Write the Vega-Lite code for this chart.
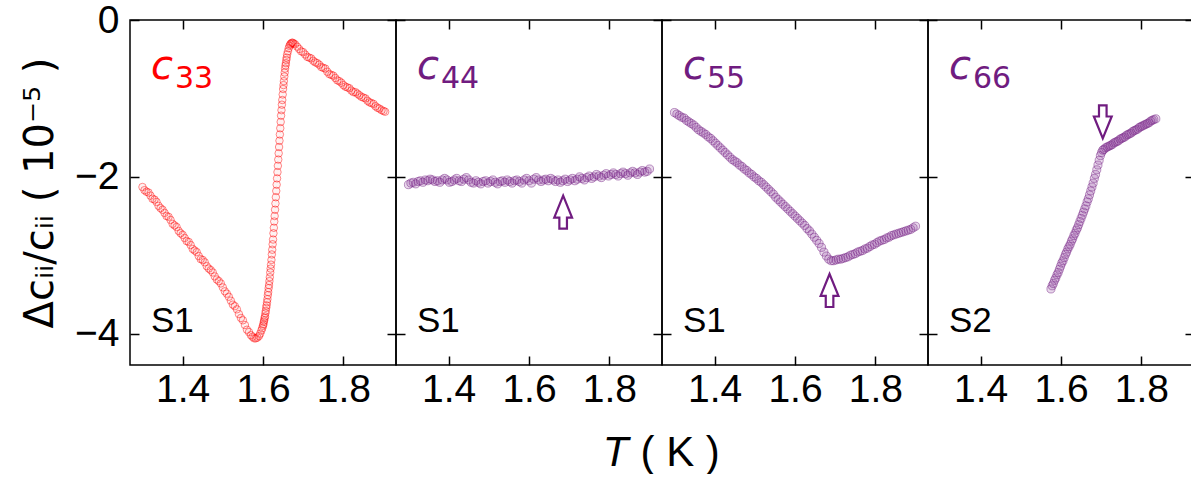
{
"$schema":"https://vega.github.io/schema/vega-lite/v6.json",
"padding":{"left":19,"top":0,"right":0,"bottom":0},
"spacing":0,
"bounds":"flush",
"config":{
 "view":{"stroke":"black","strokeWidth":1.5},
 "axis":{"grid":false,"domain":false,"ticks":true,"tickColor":"black","tickWidth":1.5,"tickSize":-9,"labelFont":"Liberation Sans","labelFontSize":39,"labelColor":"black","titleColor":"black","labelPadding":14}
},
"datasets":{
"c33":[
{"T":1.300,"v":-2.13},{"T":1.305,"v":-2.17},{"T":1.310,"v":-2.19},{"T":1.315,"v":-2.20},{"T":1.320,"v":-2.24},{"T":1.325,"v":-2.28},{"T":1.330,"v":-2.29},{"T":1.335,"v":-2.32},{"T":1.340,"v":-2.37},{"T":1.345,"v":-2.40},{"T":1.350,"v":-2.42},{"T":1.355,"v":-2.46},{"T":1.360,"v":-2.50},{"T":1.365,"v":-2.51},{"T":1.370,"v":-2.55},{"T":1.375,"v":-2.60},{"T":1.380,"v":-2.62},{"T":1.385,"v":-2.64},{"T":1.390,"v":-2.69},{"T":1.395,"v":-2.72},{"T":1.400,"v":-2.74},{"T":1.405,"v":-2.78},{"T":1.410,"v":-2.82},{"T":1.415,"v":-2.83},{"T":1.420,"v":-2.87},{"T":1.425,"v":-2.92},{"T":1.430,"v":-2.94},{"T":1.435,"v":-2.96},{"T":1.440,"v":-3.01},{"T":1.445,"v":-3.05},{"T":1.450,"v":-3.06},{"T":1.455,"v":-3.09},{"T":1.460,"v":-3.14},{"T":1.465,"v":-3.17},{"T":1.470,"v":-3.19},{"T":1.475,"v":-3.22},{"T":1.480,"v":-3.27},{"T":1.485,"v":-3.31},{"T":1.490,"v":-3.33},{"T":1.495,"v":-3.36},{"T":1.500,"v":-3.41},{"T":1.505,"v":-3.46},{"T":1.510,"v":-3.49},{"T":1.515,"v":-3.53},{"T":1.520,"v":-3.58},{"T":1.525,"v":-3.63},{"T":1.530,"v":-3.65},{"T":1.535,"v":-3.69},{"T":1.540,"v":-3.75},{"T":1.545,"v":-3.80},{"T":1.550,"v":-3.83},{"T":1.555,"v":-3.89},{"T":1.560,"v":-3.95},{"T":1.565,"v":-3.98},{"T":1.570,"v":-4.02},{"T":1.574,"v":-4.04},{"T":1.578,"v":-4.06},{"T":1.582,"v":-4.06},{"T":1.586,"v":-4.05},{"T":1.590,"v":-4.03},{"T":1.593,"v":-4.00},{"T":1.596,"v":-3.96},{"T":1.598,"v":-3.93},{"T":1.600,"v":-3.90},
{"T":1.601,"v":-3.88},{"T":1.602,"v":-3.85},{"T":1.603,"v":-3.83},{"T":1.604,"v":-3.80},{"T":1.605,"v":-3.78},{"T":1.606,"v":-3.74},{"T":1.607,"v":-3.71},{"T":1.608,"v":-3.67},{"T":1.609,"v":-3.64},{"T":1.610,"v":-3.60},{"T":1.611,"v":-3.56},{"T":1.612,"v":-3.51},{"T":1.613,"v":-3.47},{"T":1.614,"v":-3.42},{"T":1.615,"v":-3.38},{"T":1.616,"v":-3.33},{"T":1.617,"v":-3.28},{"T":1.618,"v":-3.22},{"T":1.619,"v":-3.17},{"T":1.620,"v":-3.12},{"T":1.621,"v":-3.06},{"T":1.622,"v":-2.99},{"T":1.623,"v":-2.93},{"T":1.624,"v":-2.86},{"T":1.625,"v":-2.80},{"T":1.626,"v":-2.72},{"T":1.627,"v":-2.65},{"T":1.628,"v":-2.57},{"T":1.629,"v":-2.50},{"T":1.630,"v":-2.42},{"T":1.631,"v":-2.34},{"T":1.632,"v":-2.26},{"T":1.633,"v":-2.18},{"T":1.634,"v":-2.10},{"T":1.635,"v":-2.02},{"T":1.636,"v":-1.94},{"T":1.637,"v":-1.86},{"T":1.638,"v":-1.78},{"T":1.639,"v":-1.70},{"T":1.640,"v":-1.62},{"T":1.641,"v":-1.54},{"T":1.642,"v":-1.46},{"T":1.643,"v":-1.38},{"T":1.644,"v":-1.30},{"T":1.645,"v":-1.22},{"T":1.646,"v":-1.15},{"T":1.647,"v":-1.08},{"T":1.648,"v":-1.02},{"T":1.649,"v":-0.95},{"T":1.650,"v":-0.88},{"T":1.651,"v":-0.83},{"T":1.652,"v":-0.78},{"T":1.653,"v":-0.72},{"T":1.654,"v":-0.67},{"T":1.655,"v":-0.62},{"T":1.656,"v":-0.58},{"T":1.657,"v":-0.55},{"T":1.658,"v":-0.51},{"T":1.659,"v":-0.48},{"T":1.660,"v":-0.44},{"T":1.662,"v":-0.40},{"T":1.664,"v":-0.36},{"T":1.666,"v":-0.33},{"T":1.668,"v":-0.31},{"T":1.670,"v":-0.30},{"T":1.672,"v":-0.29},{"T":1.674,"v":-0.29},{"T":1.676,"v":-0.30},
{"T":1.680,"v":-0.31},{"T":1.685,"v":-0.34},{"T":1.690,"v":-0.37},{"T":1.695,"v":-0.40},{"T":1.700,"v":-0.41},{"T":1.705,"v":-0.44},{"T":1.710,"v":-0.47},{"T":1.715,"v":-0.48},{"T":1.720,"v":-0.49},{"T":1.725,"v":-0.52},{"T":1.730,"v":-0.54},{"T":1.735,"v":-0.55},{"T":1.740,"v":-0.57},{"T":1.745,"v":-0.60},{"T":1.750,"v":-0.61},{"T":1.755,"v":-0.62},{"T":1.760,"v":-0.66},{"T":1.765,"v":-0.69},{"T":1.770,"v":-0.70},{"T":1.775,"v":-0.71},{"T":1.780,"v":-0.74},{"T":1.785,"v":-0.77},{"T":1.790,"v":-0.78},{"T":1.795,"v":-0.80},{"T":1.800,"v":-0.83},{"T":1.805,"v":-0.85},{"T":1.810,"v":-0.86},{"T":1.815,"v":-0.87},{"T":1.820,"v":-0.90},{"T":1.825,"v":-0.92},{"T":1.830,"v":-0.92},{"T":1.835,"v":-0.94},{"T":1.840,"v":-0.96},{"T":1.845,"v":-0.98},{"T":1.850,"v":-0.99},{"T":1.855,"v":-1.00},{"T":1.860,"v":-1.03},{"T":1.865,"v":-1.05},{"T":1.870,"v":-1.06},{"T":1.875,"v":-1.07},{"T":1.880,"v":-1.10},{"T":1.885,"v":-1.12},{"T":1.890,"v":-1.13},{"T":1.895,"v":-1.15},{"T":1.900,"v":-1.16},{"T":1.904,"v":-1.17}
],
"c44":[
{"T":1.300,"v":-2.10},{"T":1.306,"v":-2.08},{"T":1.312,"v":-2.07},{"T":1.318,"v":-2.09},{"T":1.324,"v":-2.06},{"T":1.330,"v":-2.05},{"T":1.336,"v":-2.07},{"T":1.342,"v":-2.04},{"T":1.348,"v":-2.05},{"T":1.354,"v":-2.03},{"T":1.360,"v":-2.04},{"T":1.366,"v":-2.06},{"T":1.372,"v":-2.05},{"T":1.378,"v":-2.07},{"T":1.384,"v":-2.04},{"T":1.390,"v":-2.02},{"T":1.396,"v":-2.04},{"T":1.402,"v":-2.07},{"T":1.408,"v":-2.06},{"T":1.414,"v":-2.04},{"T":1.420,"v":-2.02},{"T":1.426,"v":-2.05},{"T":1.432,"v":-2.06},{"T":1.438,"v":-2.03},{"T":1.444,"v":-2.01},{"T":1.450,"v":-2.04},{"T":1.456,"v":-2.07},{"T":1.462,"v":-2.08},{"T":1.468,"v":-2.05},{"T":1.474,"v":-2.07},{"T":1.480,"v":-2.09},{"T":1.486,"v":-2.06},{"T":1.492,"v":-2.05},{"T":1.498,"v":-2.08},{"T":1.504,"v":-2.06},{"T":1.510,"v":-2.04},{"T":1.516,"v":-2.07},{"T":1.522,"v":-2.09},{"T":1.528,"v":-2.06},{"T":1.534,"v":-2.05},{"T":1.540,"v":-2.07},{"T":1.546,"v":-2.04},{"T":1.552,"v":-2.06},{"T":1.558,"v":-2.08},{"T":1.564,"v":-2.05},{"T":1.570,"v":-2.04},{"T":1.576,"v":-2.06},{"T":1.582,"v":-2.08},{"T":1.588,"v":-2.04},{"T":1.594,"v":-2.02},{"T":1.600,"v":-2.05},{"T":1.606,"v":-2.08},{"T":1.612,"v":-2.03},{"T":1.618,"v":-2.01},{"T":1.624,"v":-2.04},{"T":1.630,"v":-2.06},{"T":1.636,"v":-2.04},{"T":1.642,"v":-2.03},{"T":1.648,"v":-2.05},{"T":1.654,"v":-2.02},{"T":1.660,"v":-2.04},{"T":1.666,"v":-2.06},{"T":1.672,"v":-2.04},{"T":1.678,"v":-2.07},{"T":1.684,"v":-2.05},{"T":1.690,"v":-2.03},{"T":1.696,"v":-2.06},{"T":1.702,"v":-2.04},{"T":1.708,"v":-2.02},{"T":1.714,"v":-2.05},{"T":1.720,"v":-2.03},{"T":1.726,"v":-2.00},{"T":1.732,"v":-2.02},{"T":1.738,"v":-2.04},{"T":1.744,"v":-2.01},{"T":1.750,"v":-1.99},{"T":1.756,"v":-2.02},{"T":1.762,"v":-2.00},{"T":1.768,"v":-1.97},{"T":1.774,"v":-1.99},{"T":1.780,"v":-2.01},{"T":1.786,"v":-1.98},{"T":1.792,"v":-1.96},{"T":1.798,"v":-1.99},{"T":1.804,"v":-1.97},{"T":1.810,"v":-1.95},{"T":1.816,"v":-1.97},{"T":1.822,"v":-1.99},{"T":1.828,"v":-1.96},{"T":1.834,"v":-1.94},{"T":1.840,"v":-1.96},{"T":1.846,"v":-1.98},{"T":1.852,"v":-1.95},{"T":1.858,"v":-1.93},{"T":1.864,"v":-1.95},{"T":1.870,"v":-1.97},{"T":1.876,"v":-1.94},{"T":1.882,"v":-1.92},{"T":1.888,"v":-1.94},{"T":1.894,"v":-1.93},{"T":1.900,"v":-1.90}
],
"c55":[
{"T":1.300,"v":-1.18},{"T":1.306,"v":-1.20},{"T":1.312,"v":-1.22},{"T":1.318,"v":-1.24},{"T":1.324,"v":-1.25},{"T":1.330,"v":-1.28},{"T":1.336,"v":-1.30},{"T":1.342,"v":-1.32},{"T":1.348,"v":-1.34},{"T":1.354,"v":-1.37},{"T":1.360,"v":-1.40},{"T":1.366,"v":-1.42},{"T":1.372,"v":-1.44},{"T":1.378,"v":-1.46},{"T":1.384,"v":-1.49},{"T":1.390,"v":-1.51},{"T":1.396,"v":-1.54},{"T":1.402,"v":-1.57},{"T":1.408,"v":-1.60},{"T":1.414,"v":-1.63},{"T":1.420,"v":-1.66},{"T":1.426,"v":-1.69},{"T":1.432,"v":-1.72},{"T":1.438,"v":-1.75},{"T":1.444,"v":-1.78},{"T":1.450,"v":-1.80},{"T":1.456,"v":-1.82},{"T":1.462,"v":-1.85},{"T":1.468,"v":-1.87},{"T":1.474,"v":-1.90},{"T":1.480,"v":-1.92},{"T":1.486,"v":-1.95},{"T":1.492,"v":-1.97},{"T":1.498,"v":-2.00},{"T":1.504,"v":-2.02},{"T":1.510,"v":-2.05},{"T":1.516,"v":-2.07},{"T":1.522,"v":-2.10},{"T":1.528,"v":-2.13},{"T":1.534,"v":-2.16},{"T":1.540,"v":-2.19},{"T":1.546,"v":-2.22},{"T":1.552,"v":-2.26},{"T":1.558,"v":-2.29},{"T":1.564,"v":-2.32},{"T":1.570,"v":-2.35},{"T":1.576,"v":-2.38},{"T":1.582,"v":-2.41},{"T":1.588,"v":-2.44},{"T":1.594,"v":-2.47},{"T":1.600,"v":-2.50},{"T":1.606,"v":-2.53},{"T":1.612,"v":-2.56},{"T":1.618,"v":-2.59},{"T":1.624,"v":-2.62},{"T":1.630,"v":-2.66},{"T":1.636,"v":-2.69},{"T":1.642,"v":-2.73},{"T":1.648,"v":-2.77},{"T":1.654,"v":-2.81},{"T":1.660,"v":-2.85},{"T":1.666,"v":-2.90},{"T":1.672,"v":-2.96},{"T":1.678,"v":-3.01},{"T":1.684,"v":-3.05},{"T":1.690,"v":-3.07},{"T":1.696,"v":-3.07},{"T":1.702,"v":-3.06},{"T":1.708,"v":-3.05},{"T":1.714,"v":-3.05},{"T":1.720,"v":-3.04},{"T":1.726,"v":-3.03},{"T":1.732,"v":-3.02},{"T":1.738,"v":-3.00},{"T":1.744,"v":-2.99},{"T":1.750,"v":-2.98},{"T":1.756,"v":-2.96},{"T":1.762,"v":-2.95},{"T":1.768,"v":-2.94},{"T":1.774,"v":-2.92},{"T":1.780,"v":-2.91},{"T":1.786,"v":-2.89},{"T":1.792,"v":-2.87},{"T":1.798,"v":-2.86},{"T":1.804,"v":-2.84},{"T":1.810,"v":-2.82},{"T":1.816,"v":-2.81},{"T":1.822,"v":-2.80},{"T":1.828,"v":-2.78},{"T":1.834,"v":-2.77},{"T":1.840,"v":-2.75},{"T":1.846,"v":-2.74},{"T":1.852,"v":-2.73},{"T":1.858,"v":-2.72},{"T":1.864,"v":-2.71},{"T":1.870,"v":-2.70},{"T":1.876,"v":-2.69},{"T":1.882,"v":-2.68},{"T":1.888,"v":-2.67},{"T":1.894,"v":-2.65},{"T":1.900,"v":-2.63}
],
"c66":[
{"T":1.575,"v":-3.43},{"T":1.578,"v":-3.39},{"T":1.581,"v":-3.36},{"T":1.584,"v":-3.32},{"T":1.587,"v":-3.29},{"T":1.590,"v":-3.25},{"T":1.593,"v":-3.22},{"T":1.596,"v":-3.18},{"T":1.599,"v":-3.14},{"T":1.602,"v":-3.10},{"T":1.605,"v":-3.07},{"T":1.608,"v":-3.03},{"T":1.611,"v":-2.99},{"T":1.614,"v":-2.96},{"T":1.617,"v":-2.92},{"T":1.620,"v":-2.89},{"T":1.623,"v":-2.86},{"T":1.626,"v":-2.82},{"T":1.629,"v":-2.79},{"T":1.632,"v":-2.75},{"T":1.635,"v":-2.72},{"T":1.638,"v":-2.68},{"T":1.641,"v":-2.65},{"T":1.644,"v":-2.61},{"T":1.647,"v":-2.57},{"T":1.650,"v":-2.53},{"T":1.653,"v":-2.49},{"T":1.656,"v":-2.45},{"T":1.659,"v":-2.41},{"T":1.662,"v":-2.37},{"T":1.665,"v":-2.32},{"T":1.668,"v":-2.28},{"T":1.671,"v":-2.23},{"T":1.674,"v":-2.18},{"T":1.677,"v":-2.13},{"T":1.680,"v":-2.08},{"T":1.683,"v":-2.02},{"T":1.686,"v":-1.97},{"T":1.689,"v":-1.91},{"T":1.692,"v":-1.85},{"T":1.695,"v":-1.79},{"T":1.698,"v":-1.73},{"T":1.701,"v":-1.69},{"T":1.704,"v":-1.66},{"T":1.707,"v":-1.65},{"T":1.711,"v":-1.63},{"T":1.715,"v":-1.62},{"T":1.719,"v":-1.61},{"T":1.723,"v":-1.60},{"T":1.727,"v":-1.59},{"T":1.731,"v":-1.57},{"T":1.735,"v":-1.56},{"T":1.739,"v":-1.55},{"T":1.743,"v":-1.54},{"T":1.747,"v":-1.52},{"T":1.751,"v":-1.51},{"T":1.755,"v":-1.50},{"T":1.759,"v":-1.49},{"T":1.763,"v":-1.47},{"T":1.767,"v":-1.46},{"T":1.771,"v":-1.45},{"T":1.775,"v":-1.44},{"T":1.779,"v":-1.42},{"T":1.783,"v":-1.41},{"T":1.787,"v":-1.40},{"T":1.791,"v":-1.39},{"T":1.795,"v":-1.37},{"T":1.799,"v":-1.36},{"T":1.803,"v":-1.35},{"T":1.807,"v":-1.34},{"T":1.811,"v":-1.33},{"T":1.815,"v":-1.32},{"T":1.819,"v":-1.31},{"T":1.823,"v":-1.29},{"T":1.827,"v":-1.28},{"T":1.831,"v":-1.27},{"T":1.836,"v":-1.26}
],
"lab33":[{"c":"c","n":"33","s":"S1"}],
"lab44":[{"c":"c","n":"44","s":"S1"}],
"lab55":[{"c":"c","n":"55","s":"S1"}],
"lab66":[{"c":"c","n":"66","s":"S2"}],
"arrow":[{"a":"arrow"}]
},
"hconcat":[
{"width":266,"height":345,"layer":[
 {"data":{"name":"c33"},"mark":{"type":"point","shape":"circle","filled":true,"fill":"#ff0000","fillOpacity":0.05,"stroke":"#ff0000","strokeOpacity":0.45,"strokeWidth":1,"size":56},
  "encoding":{"x":{"field":"T","type":"quantitative","scale":{"domain":[1.269,1.931],"nice":false,"zero":false},"axis":{"orient":"bottom","values":[1.4,1.6,1.8],"format":".1f","title":null}},
   "y":{"field":"v","type":"quantitative","scale":{"domain":[-4.4,0],"nice":false,"zero":false},"axis":{"orient":"left","values":[0,-2,-4],"format":"d","title":"Δcᵢᵢ/cᵢᵢ ( 10⁻⁵ )","titleFont":"DejaVu Sans","titleFontSize":40,"titleFontWeight":"normal","titlePadding":14,"labelPadding":20}}}},
 {"data":{"name":"lab33"},"mark":{"type":"text","font":"Liberation Sans","fontSize":35,"align":"left","baseline":"alphabetic","color":"black"},
  "encoding":{"x":{"datum":1.321,"type":"quantitative","axis":{"orient":"top","values":[1.4,1.6,1.8],"labels":false,"title":null}},
   "y":{"datum":-3.98,"type":"quantitative","axis":{"orient":"right","values":[0,-2,-4],"labels":false,"title":null}},"text":{"field":"s"}}},
 {"data":{"name":"lab33"},"mark":{"type":"text","font":"DejaVu Sans","fontStyle":"italic","fontSize":40,"align":"left","baseline":"alphabetic","color":"#ff0000"},
  "encoding":{"x":{"datum":1.321,"type":"quantitative","axis":null},"y":{"datum":-0.75,"type":"quantitative","axis":null},"text":{"field":"c"}}},
 {"data":{"name":"lab33"},"mark":{"type":"text","font":"DejaVu Sans","fontSize":30,"align":"left","baseline":"alphabetic","color":"#ff0000"},
  "encoding":{"x":{"datum":1.381,"type":"quantitative","axis":null},"y":{"datum":-0.866,"type":"quantitative","axis":null},"text":{"field":"n"}}}
]},
{"width":266,"height":345,"layer":[
 {"data":{"name":"c44"},"mark":{"type":"point","shape":"circle","filled":true,"fill":"#8a3c99","fillOpacity":0.2,"stroke":"#701c80","strokeOpacity":0.45,"strokeWidth":1,"size":66},
  "encoding":{"x":{"field":"T","type":"quantitative","scale":{"domain":[1.269,1.931],"nice":false,"zero":false},"axis":{"orient":"bottom","values":[1.4,1.6,1.8],"format":".1f","title":"T","titleFont":"Liberation Sans","titleFontStyle":"italic","titleFontWeight":"normal","titleFontSize":42,"titleAnchor":"end","titleAlign":"right","titleX":232,"titlePadding":23}},
   "y":{"field":"v","type":"quantitative","scale":{"domain":[-4.4,0],"nice":false,"zero":false},"axis":{"orient":"left","values":[0,-2,-4],"labels":false,"title":null}}}},
 {"data":{"name":"lab44"},"mark":{"type":"text","font":"Liberation Sans","fontSize":35,"align":"left","baseline":"alphabetic","color":"black"},
  "encoding":{"x":{"datum":1.321,"type":"quantitative","axis":{"orient":"top","values":[1.4,1.6,1.8],"labels":false,"title":null}},
   "y":{"datum":-3.98,"type":"quantitative","axis":{"orient":"right","values":[0,-2,-4],"labels":false,"title":null}},"text":{"field":"s"}}},
 {"data":{"name":"lab44"},"mark":{"type":"text","font":"DejaVu Sans","fontStyle":"italic","fontSize":40,"align":"left","baseline":"alphabetic","color":"#701c80"},
  "encoding":{"x":{"datum":1.321,"type":"quantitative","axis":null},"y":{"datum":-0.75,"type":"quantitative","axis":null},"text":{"field":"c"}}},
 {"data":{"name":"lab44"},"mark":{"type":"text","font":"DejaVu Sans","fontSize":30,"align":"left","baseline":"alphabetic","color":"#701c80"},
  "encoding":{"x":{"datum":1.381,"type":"quantitative","axis":null},"y":{"datum":-0.866,"type":"quantitative","axis":null},"text":{"field":"n"}}},
 {"data":{"name":"arrow"},"mark":{"type":"point","shape":"M0,-1L0.54,0.33L0.23,0.33L0.23,1L-0.23,1L-0.23,0.33L-0.54,0.33Z","filled":false,"stroke":"#701c80","strokeWidth":2.2,"strokeOpacity":1,"opacity":1,"size":1089},
  "encoding":{"x":{"datum":1.685,"type":"quantitative","axis":null},"y":{"datum":-2.45,"type":"quantitative","axis":null}}}
]},
{"width":266,"height":345,"layer":[
 {"data":{"name":"c55"},"mark":{"type":"point","shape":"circle","filled":true,"fill":"#8a3c99","fillOpacity":0.2,"stroke":"#701c80","strokeOpacity":0.45,"strokeWidth":1,"size":66},
  "encoding":{"x":{"field":"T","type":"quantitative","scale":{"domain":[1.269,1.931],"nice":false,"zero":false},"axis":{"orient":"bottom","values":[1.4,1.6,1.8],"format":".1f","title":"( K )","titleFont":"Liberation Sans","titleFontWeight":"normal","titleFontSize":42,"titleAnchor":"start","titleAlign":"left","titleX":-22,"titlePadding":23}},
   "y":{"field":"v","type":"quantitative","scale":{"domain":[-4.4,0],"nice":false,"zero":false},"axis":{"orient":"left","values":[0,-2,-4],"labels":false,"title":null}}}},
 {"data":{"name":"lab55"},"mark":{"type":"text","font":"Liberation Sans","fontSize":35,"align":"left","baseline":"alphabetic","color":"black"},
  "encoding":{"x":{"datum":1.321,"type":"quantitative","axis":{"orient":"top","values":[1.4,1.6,1.8],"labels":false,"title":null}},
   "y":{"datum":-3.98,"type":"quantitative","axis":{"orient":"right","values":[0,-2,-4],"labels":false,"title":null}},"text":{"field":"s"}}},
 {"data":{"name":"lab55"},"mark":{"type":"text","font":"DejaVu Sans","fontStyle":"italic","fontSize":40,"align":"left","baseline":"alphabetic","color":"#701c80"},
  "encoding":{"x":{"datum":1.321,"type":"quantitative","axis":null},"y":{"datum":-0.75,"type":"quantitative","axis":null},"text":{"field":"c"}}},
 {"data":{"name":"lab55"},"mark":{"type":"text","font":"DejaVu Sans","fontSize":30,"align":"left","baseline":"alphabetic","color":"#701c80"},
  "encoding":{"x":{"datum":1.381,"type":"quantitative","axis":null},"y":{"datum":-0.866,"type":"quantitative","axis":null},"text":{"field":"n"}}},
 {"data":{"name":"arrow"},"mark":{"type":"point","shape":"M0,-1L0.54,0.33L0.23,0.33L0.23,1L-0.23,1L-0.23,0.33L-0.54,0.33Z","filled":false,"stroke":"#701c80","strokeWidth":2.2,"strokeOpacity":1,"opacity":1,"size":1089},
  "encoding":{"x":{"datum":1.686,"type":"quantitative","axis":null},"y":{"datum":-3.45,"type":"quantitative","axis":null}}}
]},
{"width":266,"height":345,"layer":[
 {"data":{"name":"c66"},"mark":{"type":"point","shape":"circle","filled":true,"fill":"#8a3c99","fillOpacity":0.2,"stroke":"#701c80","strokeOpacity":0.45,"strokeWidth":1,"size":66},
  "encoding":{"x":{"field":"T","type":"quantitative","scale":{"domain":[1.269,1.931],"nice":false,"zero":false},"axis":{"orient":"bottom","values":[1.4,1.6,1.8],"format":".1f","title":null}},
   "y":{"field":"v","type":"quantitative","scale":{"domain":[-4.4,0],"nice":false,"zero":false},"axis":{"orient":"left","values":[0,-2,-4],"labels":false,"title":null}}}},
 {"data":{"name":"lab66"},"mark":{"type":"text","font":"Liberation Sans","fontSize":35,"align":"left","baseline":"alphabetic","color":"black"},
  "encoding":{"x":{"datum":1.321,"type":"quantitative","axis":{"orient":"top","values":[1.4,1.6,1.8],"labels":false,"title":null}},
   "y":{"datum":-3.98,"type":"quantitative","axis":{"orient":"right","values":[0,-2,-4],"labels":false,"title":null}},"text":{"field":"s"}}},
 {"data":{"name":"lab66"},"mark":{"type":"text","font":"DejaVu Sans","fontStyle":"italic","fontSize":40,"align":"left","baseline":"alphabetic","color":"#701c80"},
  "encoding":{"x":{"datum":1.321,"type":"quantitative","axis":null},"y":{"datum":-0.75,"type":"quantitative","axis":null},"text":{"field":"c"}}},
 {"data":{"name":"lab66"},"mark":{"type":"text","font":"DejaVu Sans","fontSize":30,"align":"left","baseline":"alphabetic","color":"#701c80"},
  "encoding":{"x":{"datum":1.381,"type":"quantitative","axis":null},"y":{"datum":-0.866,"type":"quantitative","axis":null},"text":{"field":"n"}}},
 {"data":{"name":"arrow"},"mark":{"type":"point","shape":"M0,1L0.54,-0.33L0.23,-0.33L0.23,-1L-0.23,-1L-0.23,-0.33L-0.54,-0.33Z","filled":false,"stroke":"#701c80","strokeWidth":2.2,"strokeOpacity":1,"opacity":1,"size":1089},
  "encoding":{"x":{"datum":1.704,"type":"quantitative","axis":null},"y":{"datum":-1.30,"type":"quantitative","axis":null}}}
]}
]
}
